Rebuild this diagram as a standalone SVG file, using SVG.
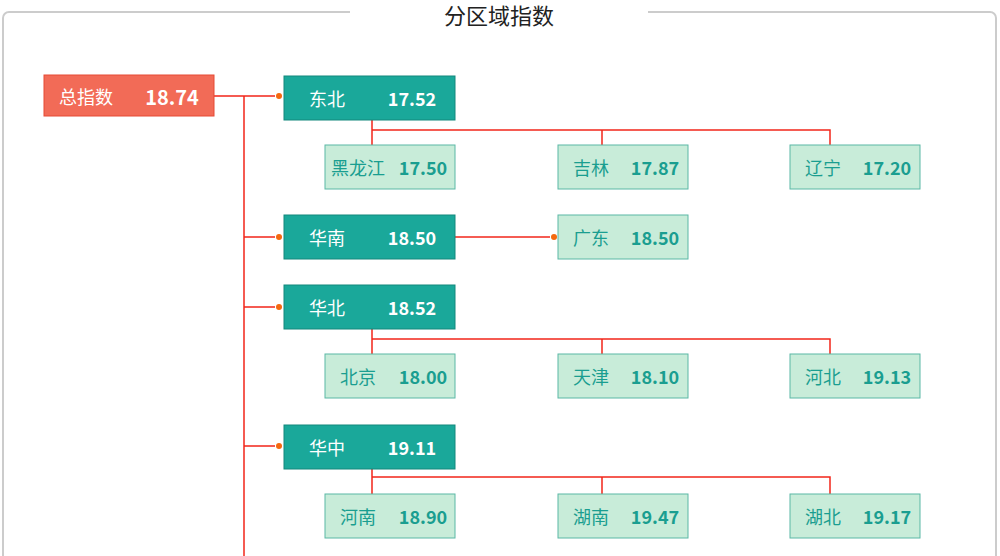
<svg xmlns="http://www.w3.org/2000/svg" width="1000" height="556" viewBox="0 0 1000 556">
<style>
text{font-family:"Noto Sans CJK SC","Liberation Sans",sans-serif;dominant-baseline:central}
.reg rect{fill:#1aa89a;stroke:#12887c}
.reg text{fill:#fff;font-size:18px}
.ch rect{fill:#c8ecd9;stroke:#5bb8a5}
.ch text{fill:#1a9e90;font-size:18px}
.v{font-weight:bold;font-size:20px;text-anchor:middle}
.l{text-anchor:middle}
#conn path{fill:none;stroke:#f2261a;stroke-width:1.5}
#conn circle{fill:#f5690f}
</style>
<rect x="3" y="12" width="993" height="560" rx="6" fill="#fff" stroke="#ccc" stroke-width="2"/>
<rect x="350" y="5" width="298" height="15" fill="#fff"/>
<text x="499" y="14" font-size="22" text-anchor="middle" fill="#222">分区域指数</text>
<g id="conn">
<path d="M214 96H275M244 96V556M244 237H275M244 307H275M244 446H275"/>
<circle cx="279" cy="96" r="3"/><circle cx="279" cy="237" r="3"/><circle cx="279" cy="307" r="3"/><circle cx="279" cy="446" r="3"/>
<path d="M372 120V145M372 130H830V145M602 130V145"/>
<path d="M372 329V354M372 339H830V354M602 339V354"/>
<path d="M372 469V494M372 477H830V494M602 477V494"/>
<path d="M455 237H550"/><circle cx="554" cy="237" r="3"/>
</g>
<g id="total"><rect x="44" y="75" width="170" height="41" fill="#f26b57" stroke="#e64a35"/><text x="86" y="96" fill="#fff" font-size="18" text-anchor="middle">总指数</text><text x="172" y="96" fill="#fff" font-size="20" font-weight="bold" text-anchor="middle">18.74</text></g>
<g id="dongbei" class="reg"><rect x="284" y="76" width="171" height="44"/><text x="327" y="98" class="l">东北</text><text x="412" y="98" class="v">17.52</text></g>
<g id="huanan" class="reg"><rect x="284" y="215" width="171" height="44"/><text x="327" y="237" class="l">华南</text><text x="412" y="237" class="v">18.50</text></g>
<g id="huabei" class="reg"><rect x="284" y="285" width="171" height="44"/><text x="327" y="307" class="l">华北</text><text x="412" y="307" class="v">18.52</text></g>
<g id="huazhong" class="reg"><rect x="284" y="425" width="171" height="44"/><text x="327" y="447" class="l">华中</text><text x="412" y="447" class="v">19.11</text></g>
<g id="heilongjiang" class="ch"><rect x="325" y="145" width="130" height="44"/><text x="358" y="167" class="l">黑龙江</text><text x="423" y="167" class="v">17.50</text></g>
<g id="jilin" class="ch"><rect x="558" y="145" width="130" height="44"/><text x="591" y="167" class="l">吉林</text><text x="655" y="167" class="v">17.87</text></g>
<g id="liaoning" class="ch"><rect x="790" y="145" width="130" height="44"/><text x="823" y="167" class="l">辽宁</text><text x="887" y="167" class="v">17.20</text></g>
<g id="guangdong" class="ch"><rect x="558" y="215" width="130" height="44"/><text x="591" y="237" class="l">广东</text><text x="655" y="237" class="v">18.50</text></g>
<g id="beijing" class="ch"><rect x="325" y="354" width="130" height="44"/><text x="358" y="376" class="l">北京</text><text x="423" y="376" class="v">18.00</text></g>
<g id="tianjin" class="ch"><rect x="558" y="354" width="130" height="44"/><text x="591" y="376" class="l">天津</text><text x="655" y="376" class="v">18.10</text></g>
<g id="hebei" class="ch"><rect x="790" y="354" width="130" height="44"/><text x="823" y="376" class="l">河北</text><text x="887" y="376" class="v">19.13</text></g>
<g id="henan" class="ch"><rect x="325" y="494" width="130" height="44"/><text x="358" y="516" class="l">河南</text><text x="423" y="516" class="v">18.90</text></g>
<g id="hunan" class="ch"><rect x="558" y="494" width="130" height="44"/><text x="591" y="516" class="l">湖南</text><text x="655" y="516" class="v">19.47</text></g>
<g id="hubei" class="ch"><rect x="790" y="494" width="130" height="44"/><text x="823" y="516" class="l">湖北</text><text x="887" y="516" class="v">19.17</text></g>
</svg>
